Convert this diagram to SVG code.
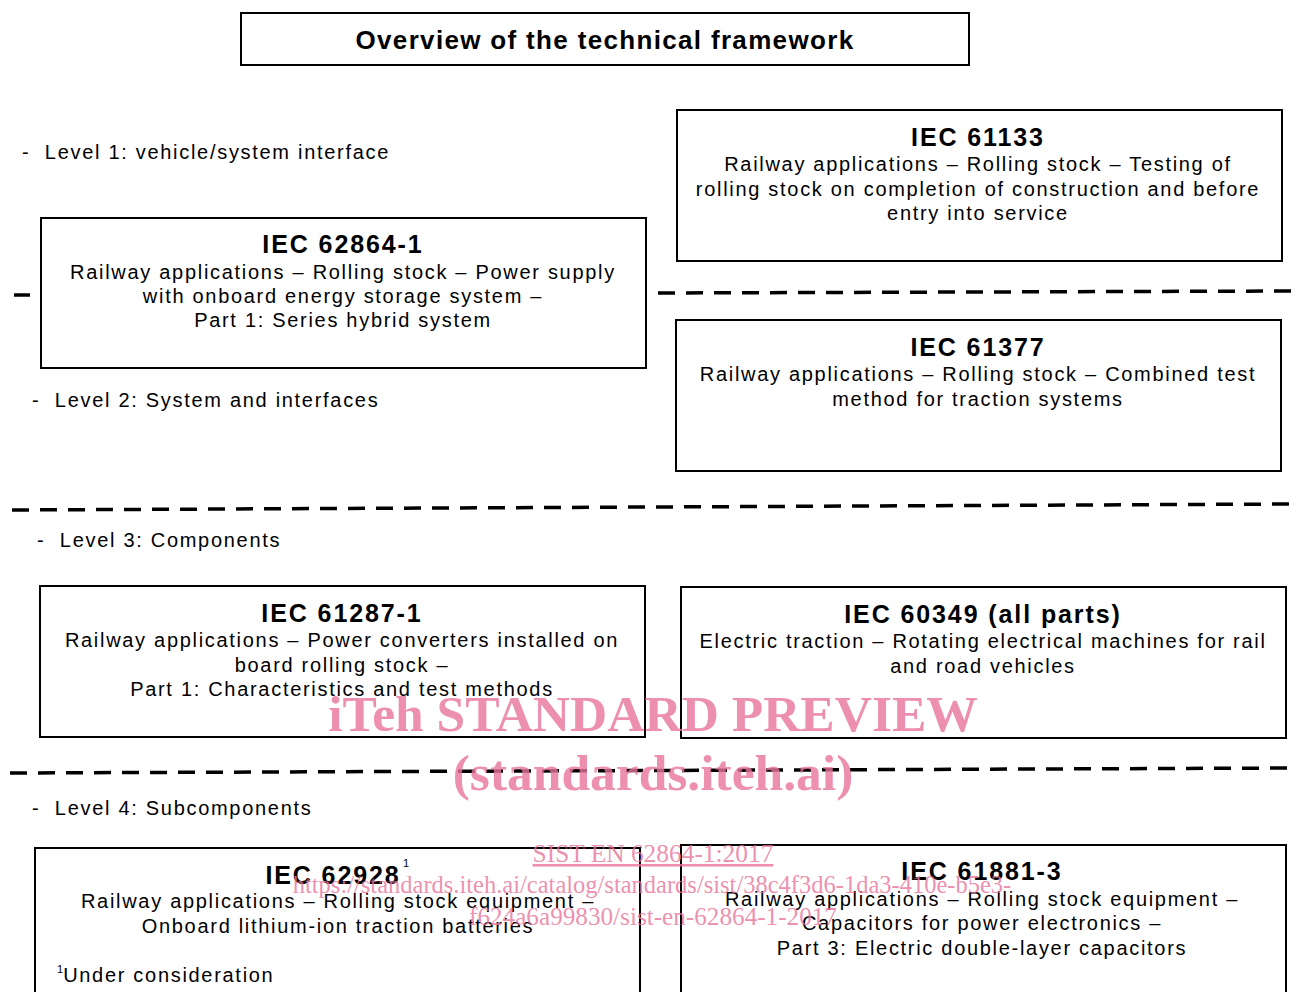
<svg xmlns="http://www.w3.org/2000/svg" width="1293" height="992" viewBox="0 0 1293 992">
<style>
.box{fill:#fff;stroke:#000;stroke-width:2}
.t{font-family:"Liberation Sans",Arial,sans-serif;font-size:25px;font-weight:bold;text-anchor:middle;letter-spacing:1.9px;fill:#000}
.b{font-family:"Liberation Sans",Arial,sans-serif;font-size:20px;text-anchor:middle;letter-spacing:1.7px;fill:#000}
.lv{font-family:"Liberation Sans",Arial,sans-serif;font-size:20px;letter-spacing:1.7px;fill:#000}
.d{stroke:#000;stroke-width:3.5;stroke-dasharray:17 11;fill:none}
.wm{font-family:"Liberation Serif","Times New Roman",serif;fill:#e8739a;fill-opacity:0.8;text-anchor:middle}
</style>
<rect width="1293" height="992" fill="#fff"/>
<g id="title"><rect class="box" x="241" y="13" width="728" height="52"/><text class="t" x="605" y="49" textLength="499" style="font-size:26px;letter-spacing:1.4px">Overview of the technical framework</text></g>
<g id="levels">
<text class="lv" x="22" y="159" xml:space="preserve">-  Level 1: vehicle/system interface</text>
<text class="lv" x="32" y="407" xml:space="preserve">-  Level 2: System and interfaces</text>
<text class="lv" x="37" y="547" xml:space="preserve">-  Level 3: Components</text>
<text class="lv" x="32" y="815" xml:space="preserve">-  Level 4: Subcomponents</text>
</g>
<g id="connectors">
<line x1="14" y1="295" x2="30" y2="295" stroke="#000" stroke-width="3.5"/>
<line class="d" x1="658" y1="293" x2="1292" y2="291"/>
<line class="d" x1="12" y1="510" x2="1292" y2="504"/>
<line class="d" x1="10" y1="773" x2="1292" y2="768"/>
</g>
<g id="iec61133"><rect class="box" x="677" y="110" width="605" height="151"/>
<text class="t" x="978" y="146">IEC 61133</text>
<text class="b" x="978" y="171">Railway applications – Rolling stock – Testing of</text>
<text class="b" x="978" y="196">rolling stock on completion of construction and before</text>
<text class="b" x="978" y="220">entry into service</text></g>
<g id="iec62864"><rect class="box" x="41" y="218" width="605" height="150"/>
<text class="t" x="343" y="253">IEC 62864-1</text>
<text class="b" x="343" y="279">Railway applications – Rolling stock – Power supply</text>
<text class="b" x="343" y="303">with onboard energy storage system –</text>
<text class="b" x="343" y="327">Part 1: Series hybrid system</text></g>
<g id="iec61377"><rect class="box" x="676" y="320" width="605" height="151"/>
<text class="t" x="978" y="356">IEC 61377</text>
<text class="b" x="978" y="381">Railway applications – Rolling stock – Combined test</text>
<text class="b" x="978" y="406">method for traction systems</text></g>
<g id="iec61287"><rect class="box" x="40" y="586" width="605" height="151"/>
<text class="t" x="342" y="622">IEC 61287-1</text>
<text class="b" x="342" y="647">Railway applications – Power converters installed on</text>
<text class="b" x="342" y="672">board rolling stock –</text>
<text class="b" x="342" y="696">Part 1: Characteristics and test methods</text></g>
<g id="iec60349"><rect class="box" x="681" y="587" width="605" height="151"/>
<text class="t" x="983" y="623">IEC 60349 (all parts)</text>
<text class="b" x="983" y="648">Electric traction – Rotating electrical machines for rail</text>
<text class="b" x="983" y="673">and road vehicles</text></g>
<g id="iec62928"><rect class="box" x="35" y="848" width="605" height="160"/>
<text class="t" x="333" y="884">IEC 62928</text>
<text class="b" x="403" y="867" style="font-size:11px;text-anchor:start;letter-spacing:0">1</text>
<text class="b" x="338" y="908">Railway applications – Rolling stock equipment –</text>
<text class="b" x="338" y="933">Onboard lithium-ion traction batteries</text>
<text class="lv" x="57" y="982"><tspan style="font-size:11px;letter-spacing:0" dy="-9">1</tspan><tspan dy="9">Under consideration</tspan></text></g>
<g id="iec61881"><rect class="box" x="681" y="845" width="605" height="160"/>
<text class="t" x="982" y="880">IEC 61881-3</text>
<text class="b" x="982" y="906">Railway applications – Rolling stock equipment –</text>
<text class="b" x="982" y="930">Capacitors for power electronics –</text>
<text class="b" x="982" y="955">Part 3: Electric double-layer capacitors</text></g>
<g id="watermark">
<text class="wm" x="653" y="731" style="font-size:51.5px;font-weight:bold">iTeh STANDARD PREVIEW</text>
<text class="wm" x="653" y="790" style="font-size:51.5px;font-weight:bold">(standards.iteh.ai)</text>
<text class="wm" x="653" y="862" style="font-size:25.4px;text-decoration:underline">SIST EN 62864-1:2017</text>
<text class="wm" x="652" y="893" style="font-size:24.5px">https://standards.iteh.ai/catalog/standards/sist/38c4f3d6-1da3-410e-b5e3-</text>
<text class="wm" x="653" y="925" style="font-size:25.2px">f624a6a99830/sist-en-62864-1-2017</text>
</g>
</svg>
